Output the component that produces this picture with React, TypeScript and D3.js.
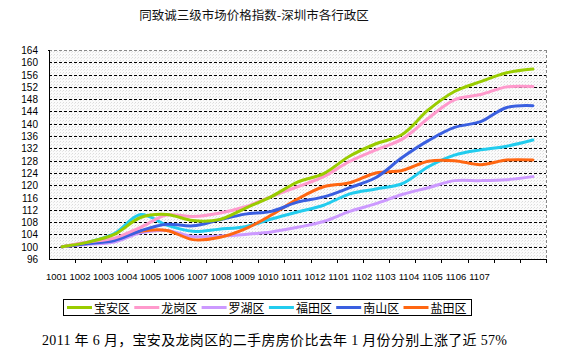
import React, { useEffect, useRef } from 'react';
import * as d3 from 'd3';

const months = ['1001', '1002', '1003', '1004', '1005', '1006', '1007', '1008', '1009', '1010', '1011', '1012', '1101', '1102', '1103', '1104', '1105', '1106', '1107'];
const yTicks = [96, 100, 104, 108, 112, 116, 120, 124, 128, 132, 136, 140, 144, 148, 152, 156, 160, 164];

const baoan = [100, 101.5, 104, 109.5, 110.5, 108.5, 108.8, 112.5, 116.3, 121, 123.8, 129.5, 133.5, 136.5, 144.5, 150.5, 153.7, 156.6, 157.8];
const longgang = [100, 101.5, 102.8, 106.3, 110.3, 109.8, 110.9, 113, 116.3, 119.5, 122.8, 127.8, 131.5, 135, 141.8, 147.8, 149.5, 152, 152.1];
const luohu = [100, 100.8, 101.5, 104.5, 105.3, 103.3, 103.5, 104, 104.8, 106.3, 108.2, 111.5, 114, 117, 119.2, 121.5, 121.5, 121.8, 122.8];
const futian = [100, 101.5, 104.3, 110.5, 107, 105, 105.7, 106.5, 109, 111.3, 113.5, 117.2, 118.8, 120.5, 126, 129.8, 131.5, 132.7, 134.7];
const nanshan = [100, 101, 102, 105.2, 107.3, 106.8, 108.7, 110.6, 111.5, 114.5, 116.2, 119.2, 122.5, 129, 134.5, 138.8, 140.7, 145.3, 145.9];
const yantian = [100, 101.3, 102.3, 105, 105.3, 102.3, 103, 105.8, 110.3, 115.5, 119.5, 120.8, 124, 124.8, 127.8, 128, 126.7, 128.2, 128.2];

const seriesNames = ['宝安区', '龙岗区', '罗湖区', '福田区', '南山区', '盐田区'];
const seriesValues = [baoan, longgang, luohu, futian, nanshan, yantian];
const seriesColors = ['#99cc00', '#ff99cc', '#cc99ff', '#22ccee', '#3a5fe0', '#ff6611'];

const App: React.FC = () => {
  const svgRef = useRef<SVGSVGElement>(null);

  useEffect(() => {
    if (!svgRef.current) return;
    const svg = d3.select(svgRef.current);
    svg.selectAll('*').remove();

    const left = 49, right = 546, top = 50, bottom = 259;

    const x = d3.scaleBand<string>().domain(months).range([left, right]).paddingInner(0).paddingOuter(0);
    const y = d3.scaleLinear().domain([96, 164]).range([bottom, top]);
    // the category labels sit a bit left of the points, as in the original export
    const xLabel = d3.scalePoint<string>().domain(months).range([56.5, 479.5]);

    // speckled plot background
    const defs = svg.append('defs');
    const pat = defs.append('pattern')
      .attr('id', 'speckle')
      .attr('width', 3)
      .attr('height', 3)
      .attr('patternUnits', 'userSpaceOnUse');
    pat.append('rect').attr('width', 3).attr('height', 3).attr('fill', '#fbfbfb');
    pat.append('rect').attr('x', 0).attr('y', 0).attr('width', 1).attr('height', 1).attr('fill', '#dcdcdc');
    pat.append('rect').attr('x', 2).attr('y', 1).attr('width', 1).attr('height', 1).attr('fill', '#e8e8e8');

    svg.append('rect')
      .attr('x', left).attr('y', top)
      .attr('width', right - left).attr('height', bottom - top)
      .attr('fill', 'url(#speckle)');

    // title
    svg.append('text')
      .attr('x', 254).attr('y', 20)
      .attr('text-anchor', 'middle')
      .attr('font-family', '"Noto Sans CJK SC", sans-serif')
      .attr('font-size', 12.5)
      .attr('fill', '#111')
      .text('同致诚三级市场价格指数-深圳市各行政区');

    // grid lines
    svg.append('g')
      .selectAll('line')
      .data(yTicks.filter(t => t > 96))
      .enter()
      .append('line')
      .attr('x1', left).attr('x2', right)
      .attr('y1', d => Math.round(y(d)) + 0.5)
      .attr('y2', d => Math.round(y(d)) + 0.5)
      .attr('stroke', d => (d === 164 ? '#888' : '#000'))
      .attr('stroke-width', 1)
      .attr('stroke-dasharray', '3,2');

    // right border
    svg.append('line')
      .attr('x1', right + 0.5).attr('x2', right + 0.5)
      .attr('y1', top).attr('y2', bottom)
      .attr('stroke', '#888')
      .attr('stroke-dasharray', '3,2');

    // axes
    svg.append('line')
      .attr('x1', left + 0.5).attr('x2', left + 0.5)
      .attr('y1', top).attr('y2', bottom)
      .attr('stroke', '#000');
    svg.append('line')
      .attr('x1', left).attr('x2', right + 1)
      .attr('y1', bottom + 0.5).attr('y2', bottom + 0.5)
      .attr('stroke', '#000');

    // left tick at top corner
    svg.append('line')
      .attr('x1', left - 1).attr('x2', left + 1)
      .attr('y1', top + 0.5).attr('y2', top + 0.5)
      .attr('stroke', '#000');

    // x tick marks on band boundaries
    const boundaries = months.map(m => x(m)!).concat([right]).slice(1);
    svg.append('g')
      .selectAll('line')
      .data(boundaries)
      .enter()
      .append('line')
      .attr('x1', d => Math.round(d) + 0.5)
      .attr('x2', d => Math.round(d) + 0.5)
      .attr('y1', bottom)
      .attr('y2', bottom + 4)
      .attr('stroke', '#000');

    // y labels
    svg.append('g')
      .selectAll('text')
      .data(yTicks)
      .enter()
      .append('text')
      .attr('x', 38)
      .attr('y', d => y(d) + 4)
      .attr('text-anchor', 'end')
      .attr('font-family', '"Liberation Sans", Arial, sans-serif')
      .attr('font-size', 10)
      .attr('fill', '#000')
      .text(d => d);

    // x labels
    svg.append('g')
      .selectAll('text')
      .data(months)
      .enter()
      .append('text')
      .attr('x', d => xLabel(d)!)
      .attr('y', 279.5)
      .attr('text-anchor', 'middle')
      .attr('font-family', '"Liberation Sans", Arial, sans-serif')
      .attr('font-size', 9.5)
      .attr('fill', '#000')
      .text(d => d);

    // lines
    const line = d3.line<number>()
      .x((_, i) => x(months[i])! + x.bandwidth() / 2)
      .y(d => y(d))
      .curve(d3.curveCatmullRom.alpha(0.5));

    const order = [2, 3, 5, 4, 1, 0];
    svg.append('g')
      .selectAll('path')
      .data(order)
      .enter()
      .append('path')
      .attr('d', i => line(seriesValues[i]))
      .attr('fill', 'none')
      .attr('stroke', i => seriesColors[i])
      .attr('stroke-width', 3)
      .attr('stroke-linejoin', 'round')
      .attr('stroke-linecap', 'round');

    // legend
    const legend = svg.append('g');
    legend.append('rect')
      .attr('x', 63.5).attr('y', 299.5)
      .attr('width', 408).attr('height', 16)
      .attr('fill', '#fff')
      .attr('stroke', '#000');

    const item = legend.selectAll('g.item')
      .data(seriesNames)
      .enter()
      .append('g')
      .attr('class', 'item')
      .attr('transform', (_, i) => `translate(${67 + i * 67.3},307.5)`);
    item.append('line')
      .attr('x1', 0).attr('x2', 25)
      .attr('y1', 0).attr('y2', 0)
      .attr('stroke', (_, i) => seriesColors[i])
      .attr('stroke-width', 3);
    item.append('text')
      .attr('x', 27).attr('y', 5)
      .attr('font-family', '"Noto Sans CJK SC", sans-serif')
      .attr('font-size', 12)
      .attr('fill', '#000')
      .text(d => d);

    // caption
    svg.append('text')
      .attr('x', 42).attr('y', 345)
      .attr('textLength', 465)
      .attr('lengthAdjust', 'spacing')
      .attr('font-family', '"Liberation Serif", "Noto Sans CJK SC", serif')
      .attr('font-size', 14)
      .attr('fill', '#000')
      .text('2011 年 6 月，宝安及龙岗区的二手房房价比去年 1 月份分别上涨了近 57%');
  }, []);

  return (
    <div style={{ position: 'absolute', left: 0, top: 0, width: 579, height: 354, background: '#fff' }}>
      <svg ref={svgRef} width={579} height={354}></svg>
    </div>
  );
};

export default App;
